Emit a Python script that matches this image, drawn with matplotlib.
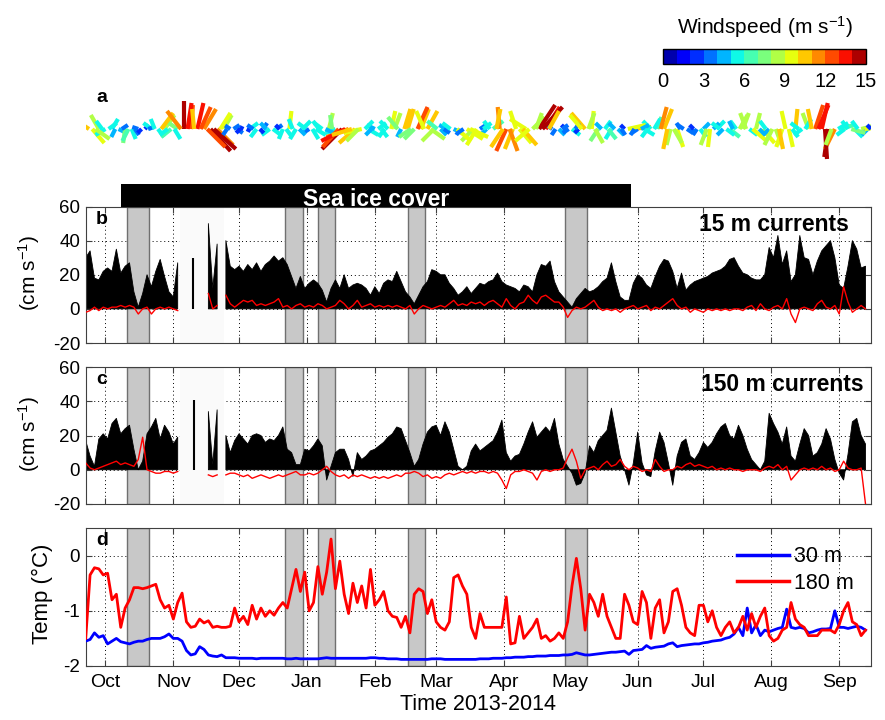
import numpy as np
import matplotlib
matplotlib.use('Agg')
import matplotlib.pyplot as plt
from matplotlib.collections import LineCollection
from matplotlib.patches import Rectangle
from matplotlib.colors import Normalize, ListedColormap
from matplotlib.cm import ScalarMappable
from matplotlib.lines import Line2D

plt.rcParams['font.family'] = ['Liberation Sans', 'DejaVu Sans']
plt.rcParams['mathtext.fontset'] = 'custom'
plt.rcParams['mathtext.rm'] = 'Liberation Sans'
plt.rcParams['mathtext.it'] = 'Liberation Sans:italic'
plt.rcParams['mathtext.bf'] = 'Liberation Sans:bold'
plt.rcParams['axes.unicode_minus'] = False

nan = np.nan
start = np.datetime64('2013-09-22')

# --- data, one value every 2 days from 22 Sep 2013 ---
# 15 m currents (cm/s): black = along-channel speed, red = second component
cur15_black = [30, 34, 18, 17, 22, 24, 22, 35, 21, 25,
               27, 10, 1, 9, 20, 13, 22, 29, 19, 10,
               7, 27, nan, nan, nan, nan, nan, nan, 50, 12,
               38, nan, 40, 25, 23, 25, 22, 26, 23, 27,
               22, 26, 28, 31, 28, 30, 26, 19, 12, 19,
               12, 15, 17, 15, 11, 4, 12, 17, 12, 20,
               12, 14, 15, 14, 12, 8, 13, 9, 15, 17,
               16, 22, 16, 10, 7, 3, 8, 13, 16, 23,
               22, 20, 20, 15, 12, 8, 10, 13, 9, 12,
               15, 14, 16, 17, 21, 16, 14, 13, 12, 10,
               14, 13, 10, 20, 26, 25, 28, 16, 10, 7,
               4, 1, 6, 9, 12, 10, 11, 13, 16, 18,
               27, 16, 7, 5, 5, 15, 20, 18, 14, 12,
               19, 25, 29, 28, 22, 12, 21, 11, 14, 16,
               17, 18, 19, 21, 22, 23, 25, 29, 30, 25,
               21, 20, 18, 17, 17, 20, 36, 30, 43, 26,
               34, 16, 20, 43, 30, 29, 20, 28, 34, 37,
               40, 30, 14, 12, 25, 40, 35, 24, 25]
cur15_red = [-2, -1, 1, -1, 1, 0, 1, 1, 2, 1,
             2, 1, -3, 0, 1, -3, 0, 1, 0, 1,
             0, -1, nan, nan, nan, nan, nan, nan, 9, 0,
             2, nan, 8, 3, 1, 3, 5, 4, 5, 2,
             3, 2, 3, 4, 6, 1, 2, 0, 2, 3,
             1, 2, 1, 3, 2, 0, 1, 2, 5, 3,
             0, 2, 5, 1, 2, 3, 1, 2, 1, 2,
             1, 2, 1, 0, 2, -3, 0, 2, 1, 0,
             1, 2, 1, 3, 5, 2, 3, 2, 4, 3,
             4, 2, 4, 5, 3, 1, 6, 2, 0, 3,
             4, 8, 5, 3, 7, 8, 6, 4, 4, 1,
             -5, -1, 1, 0, 1, 3, 5, 1, -1, 0,
             -1, 0, -2, 0, 1, 2, 0, 1, 2, -1,
             1, 0, 2, 4, 6, 2, 0, 1, -2, 0,
             -1, -2, 0, -1, 0, -1, 0, -1, 0, 0,
             -1, 1, 2, -1, 3, 0, -1, 1, 2, 0,
             6, -3, -8, 0, 1, 0, -1, 3, 5, 1,
             0, 2, -3, 13, 4, -2, 0, 2, 0]
# 150 m currents (cm/s)
cur150_black = [17, 8, 2, 18, 21, 18, 27, 30, 21, 24,
                26, 12, 0, 5, 21, 25, 30, 18, 26, 22,
                15, 19, nan, nan, nan, nan, nan, nan, 34, 3,
                35, nan, 20, 10, 17, 21, 18, 15, 20, 21,
                20, 16, 18, 17, 20, 25, 12, 10, 3, 3,
                12, 11, 14, 18, 14, -6, 2, 10, 12, 12,
                6, -4, 10, 6, 8, 11, 12, 14, 16, 19,
                21, 25, 24, 17, 10, 2, 6, 15, 22, 25,
                26, 20, 28, 22, 12, 2, 0, 2, 11, 15,
                11, 13, 15, 17, 22, 29, 10, 5, 8, 9,
                15, 22, 28, 19, 22, 25, 22, 30, 15, 6,
                2, -2, -9, -8, -2, 14, 10, 17, 20, 23,
                36, 22, 8, 0, -9, 4, 22, 4, -3, -4,
                11, 22, 16, 4, -9, 8, 16, 18, 8, 6,
                10, 16, 13, 16, 21, 25, 27, 20, 18, 26,
                20, 12, 6, 3, 0, 5, 33, 27, 22, 15,
                25, 8, 5, 15, 24, 20, 8, 10, 15, 24,
                18, 6, -2, -6, 9, 28, 30, 20, 15]
cur150_red = [4, 1, 0, 1, 2, 3, 4, 5, 3, 4,
              3, 2, 6, 19, 0, -1, -2, -2, -1, -1,
              -2, -1, nan, nan, nan, nan, nan, nan, -3, -4,
              -3, nan, -3, -2, -2, -3, -4, -3, -5, -4,
              -3, -4, -5, -4, -3, -4, -3, -2, -1, -3,
              -3, -2, -3, -2, 0, 2, -1, -3, -4, -3,
              -5, -3, -4, -3, -4, -5, -4, -5, -4, -5,
              -4, -3, -4, -2, -2, -1, -2, -4, -3, -5,
              -4, -5, -3, -2, -3, -2, -1, -2, -1, -2,
              -1, -1, -2, -1, -2, -6, -11, -3, -1, -1,
              0, -1, -2, -6, -1, 0, -1, 0, 0, 1,
              7, 12, 5, -5, 0, 1, 2, 0, 3, 5,
              2, 3, 6, 2, 0, 2, 1, -1, 0, -1,
              6, 2, -1, 0, 0, 2, 1, 3, 4, 2,
              3, 2, 1, 2, 0, 1, 0, 1, 0, 0,
              -1, 0, 0, 0, -1, 1, 2, 1, 3, 0,
              2, -6, -3, 0, 1, 0, 1, 0, 2, 0,
              1, -1, 0, 5, 1, 0, 0, 1, -20]
# isolated short records inside the data gap (day, cm/s)
bar15 = (49, 30)
bar150 = (49.5, 41)

# temperature (deg C)
temp180 = [-1.5, -0.35, -0.22, -0.24, -0.35, -0.32, -0.8, -0.7, -1.3, -0.95,
           -0.8, -0.58, -0.58, -0.6, -0.58, -0.55, -0.52, -0.8, -0.95, -0.9,
           -1.15, -0.85, -0.68, -1.2, -1.3, -1.28, -1.15, -1.22, -1.18, -1.3,
           -1.28, -1.3, -1.3, -1.28, -0.95, -1.2, -1.1, -1.25, -0.9, -1.15,
           -0.95, -1.1, -1.0, -1.08, -0.95, -0.85, -0.95, -0.6, -0.25, -0.65,
           -0.3, -1.0, -0.85, -0.2, -0.7, -0.3, 0.3, -0.6, -0.1, -0.7,
           -1.05, -0.5, -0.85, -0.55, -0.95, -0.25, -0.9, -0.8, -0.65, -1.0,
           -1.1, -1.12, -1.3, -1.1, -1.4, -0.7, -0.6, -0.65, -1.05, -0.8,
           -1.2, -1.3, -1.35, -1.2, -0.4, -0.35, -0.55, -0.7, -1.3, -1.5,
           -1.05, -1.3, -1.3, -1.3, -1.3, -1.3, -0.75, -1.6, -1.58, -1.1,
           -1.5, -1.4, -1.3, -1.15, -1.5, -1.45, -1.55, -1.5, -1.4, -1.5,
           -1.2, -0.55, -0.05, -0.6, -1.35, -0.7, -0.85, -1.1, -0.7, -1.1,
           -1.3, -1.5, -1.5, -0.7, -0.9, -1.2, -1.25, -0.65, -0.85, -1.5,
           -0.95, -0.8, -1.4, -1.2, -0.65, -0.6, -0.9, -1.3, -1.4, -1.45,
           -0.9, -0.9, -1.2, -1.0, -1.3, -1.45, -1.3, -1.2, -1.4, -1.3,
           -1.1, -1.35, -1.05, -1.3, -1.1, -0.95, -1.45, -1.55, -1.5, -1.35,
           -1.3, -0.85, -1.15, -1.25, -1.3, -1.45, -1.45, -1.45, -1.35, -1.35,
           -1.35, -1.4, -1.25, -1.0, -0.85, -1.2, -1.25, -1.45, -1.35]
temp30 = [-1.55, -1.52, -1.4, -1.48, -1.45, -1.6, -1.55, -1.5, -1.56, -1.58,
          -1.6, -1.57, -1.55, -1.55, -1.52, -1.5, -1.5, -1.5, -1.47, -1.42,
          -1.5, -1.5, -1.55, -1.72, -1.8, -1.78, -1.65, -1.7, -1.8, -1.82,
          -1.83, -1.8, -1.85, -1.85, -1.85, -1.86, -1.86, -1.86, -1.86, -1.87,
          -1.86, -1.86, -1.86, -1.86, -1.86, -1.86, -1.87, -1.87, -1.86, -1.87,
          -1.87, -1.87, -1.87, -1.87, -1.86, -1.85, -1.86, -1.86, -1.86, -1.86,
          -1.86, -1.86, -1.86, -1.86, -1.86, -1.85, -1.85, -1.86, -1.86, -1.87,
          -1.87, -1.87, -1.88, -1.88, -1.88, -1.88, -1.88, -1.88, -1.88, -1.87,
          -1.87, -1.87, -1.88, -1.88, -1.88, -1.88, -1.88, -1.88, -1.88, -1.88,
          -1.87, -1.87, -1.87, -1.86, -1.86, -1.86, -1.85, -1.85, -1.84, -1.84,
          -1.84, -1.83, -1.83, -1.82, -1.82, -1.82, -1.81, -1.81, -1.81, -1.8,
          -1.8, -1.79, -1.76, -1.78, -1.8, -1.8, -1.79, -1.78, -1.77, -1.76,
          -1.75, -1.75, -1.74, -1.73, -1.79, -1.72, -1.71, -1.7, -1.63, -1.68,
          -1.66, -1.65, -1.64, -1.6, -1.58, -1.65, -1.63, -1.62, -1.61, -1.6,
          -1.6, -1.58, -1.57, -1.55, -1.54, -1.53, -1.5, -1.48, -1.42, -1.3,
          -1.45, -0.95, -1.4, -1.25, -1.45, -1.35, -1.38, -1.35, -1.32, -1.3,
          -0.97, -1.3, -1.32, -1.3, -1.32, -1.4, -1.38, -1.35, -1.33, -1.33,
          -1.32, -1.0, -1.3, -1.3, -1.32, -1.3, -1.28, -1.3, -1.35]

# wind sticks (m/s): one set on days 0, 3, 6, ... and one on days 1.5, 4.5, ...
wind_u = [-8, 6, -4, -5, 3, 4, -1, 2, -3, 2, -4, 3, 5, -5, -6, 0, 1, 3, 6, 10,
          8, 4, -3, 3, -2, 4, -3, 2, -4, 3, -2, 1, -3, 4, -3, 5, -4, 2, -5, -10,
          -11, -8, -9, 5, -4, 3, -4, 3, -2, 3, -5, 4, 5, -6, 3, -4, 4, -2, 8, -6,
          3, -3, 5, -1, -5, -4, 6, -8, 6, 8, 7, -3, 3, -2, 4, -2, -7, 1, -4, 3,
          -3, 3, -2, 10, -3, 5, -4, 2, 4, -2, 3, -3, 3, -2, 3, -1, 4, -3, 5, -3,
          3, 4, 2, 6, -3, 3, -3, 2, 1, -4, -3, 4, 3, -2, -5, 6, -3, 4, 8, -3]
wind_v = [7, -7, 7, -3, 5, -2, -7, -5, 1, 2, 3, -4, 7, -4, 4, 14, 12, 13, 10, -11,
          -8, 7, 2, -2, 1, 3, -4, 3, -3, 2, -5, 9, -5, 4, -2, -3, 3, 8, -2, -10,
          -4, -7, -2, -3, 2, -4, 4, 8, -4, 10, -5, 10, 9, -6, -3, 2, -2, -3, -5, -6,
          2, -3, 4, 11, -11, -10, -7, 5, 6, 12, 11, 2, -3, 2, -3, -2, 8, 9, -6, 4,
          -5, -3, 2, 1, -2, -3, 4, 6, 10, -8, -9, 2, -2, -3, 3, -9, 4, -3, -4, 4,
          8, -3, 8, -7, -3, -8, -9, -9, 10, -3, 8, 12, 13, -14, -10, 2, 4, -4, 2, -3]
wind_u2 = [-9, 7, -3, 4, -2, 3, -3, 2, -2, 3, -2, 6, -4, 3, -7, 2, -1, 5, 9, 11,
           5, -2, 3, -2, 2, -3, 2, -3, 4, -2, 3, -2, 3, -4, 3, -3, 4, -1, -8, -12,
           -10, -6, 4, -3, 4, -3, 2, -5, 3, -6, 5, -4, 7, -5, 3, -4, 7, -3, 9, -5,
           4, -3, 2, -6, 4, -3, 7, -7, 3, 10, 5, -2, 3, -3, 2, -6, 3, 4, -3, 4,
           -3, 2, 9, -2, 4, -3, 3, 3, -2, 4, -2, 3, -2, 3, -3, 3, -4, 4, -2, 4,
           -3, 7, 3, -3, -4, 2, -2, 3, -4, 3, -2, 5, 1, -3, 5, -4, 7, -3, 9, -2]
wind_v2 = [6, -5, 4, 3, -4, 2, -6, -3, -2, 1, 5, 8, -3, -5, 9, 13, 10, 11, -9, -10,
           8, -3, 2, -2, -1, 2, -2, 3, -3, 2, -4, 5, -3, 3, -5, 4, -2, 7, -9, -6,
           -3, -6, 4, -3, 3, -4, 9, 6, 10, -4, 11, 9, -5, 4, -2, 3, -6, -2, -4, -8,
           3, 4, 10, -9, -11, 9, -8, -6, 8, 11, 9, -3, 2, -2, 3, 7, 8, -7, 3, -5,
           3, -3, 2, -3, 2, -4, 5, 11, -10, -7, 3, -2, 2, -4, -8, 3, 3, -3, 4, 7,
           8, -6, -3, 4, -8, -10, 9, -4, 3, 5, 10, 12, -15, -8, 3, -3, -2, 4, 1, 2]

# shaded event periods and sea-ice period
event_start = np.array(['2013-10-11', '2013-12-22', '2014-01-06', '2014-02-16', '2014-04-29'], dtype='datetime64[D]')
event_end = np.array(['2013-10-21', '2013-12-30', '2014-01-14', '2014-02-24', '2014-05-09'], dtype='datetime64[D]')
ice_period = np.array(['2013-10-08', '2014-05-29'], dtype='datetime64[D]')
gap_period = np.array(['2013-11-04', '2013-11-24'], dtype='datetime64[D]')

month_labels = ['Oct', 'Nov', 'Dec', 'Jan', 'Feb', 'Mar', 'Apr', 'May', 'Jun', 'Jul', 'Aug', 'Sep']
months = np.arange('2013-10', '2014-10', dtype='datetime64[M]')
month_days = (months.astype('datetime64[D]') - start).astype(int)

days = np.arange(len(cur15_black)) * 2
wind_day = np.arange(len(wind_u)) * 3
wind_day2 = np.arange(len(wind_u2)) * 3 + 1.5
ev0 = (event_start - start).astype(int)
ev1 = (event_end - start).astype(int)
ice0, ice1 = (ice_period - start).astype(int)
gap0, gap1 = (gap_period - start).astype(int)
xmax = 358.5

W, H = 885, 720
fig = plt.figure(figsize=(W / 100, H / 100), dpi=100)


def px_axes(x0, y0, x1, y1):
    return fig.add_axes([x0 / W, 1 - y1 / H, (x1 - x0) / W, (y1 - y0) / H])


def style(ax):
    ax.set_xlim(0, xmax)
    ax.set_xticks(month_days)
    ax.grid(True, color='k', linestyle=(0, (1, 3)), lw=0.7)
    ax.set_axisbelow(True)
    ax.tick_params(direction='in', top=True, right=True, length=4,
                   labelsize=13.5, pad=4, color='#404040')
    ax.tick_params(axis='x', labelsize=14, pad=6)
    for s in ax.spines.values():
        s.set_color('#404040')
    for a, b in zip(ev0, ev1):
        ax.axvspan(a, b, facecolor='#c8c8c8', edgecolor='#707070', lw=1, zorder=1)


# ---- panel a: wind sticks ----
axa = px_axes(85.7, 90, 871, 168)
axa.set_xlim(0, xmax)
axa.set_ylim(-19.5, 19.5)
axa.axis('off')
k = (78 / 39.0) / (785.3 / xmax)   # days per m/s so sticks keep true direction
cmap = ListedColormap(plt.cm.jet(np.linspace(0.04, 0.96, 15)))
norm = Normalize(0, 15)
for dd, uu, vv in [(wind_day, wind_u, wind_v), (wind_day2, wind_u2, wind_v2)]:
    wu = np.array(uu, float)
    wv = np.array(vv, float)
    segs = [[(d, 0), (d + u * k, v)] for d, u, v in zip(dd, wu, wv)]
    lc = LineCollection(segs, colors=cmap(norm(np.hypot(wu, wv))),
                        linewidths=3, capstyle='butt')
    axa.add_collection(lc)
fig.text(96 / W, 1 - 89 / H, 'a', fontsize=14, weight='bold', va='top', ha='left')

# colorbar
cax = px_axes(663, 49, 866, 64)
cb = fig.colorbar(ScalarMappable(norm=norm, cmap=cmap), cax=cax,
                  orientation='horizontal', ticks=range(0, 16, 3))
cb.ax.tick_params(length=0, labelsize=14.5, pad=6)
cb.outline.set_linewidth(1)
cax.set_title('Windspeed (m s$^{-1}$)', fontsize=15, pad=11)


# ---- panels b, c: currents ----
def current_panel(ax, black, red, bar, letter, label, lab_x):
    style(ax)
    ax.axvspan(gap0, gap1, facecolor='#fafafa', lw=0, zorder=1)
    ax.fill_between(days, 0, np.array(black, float), color='k', lw=0.6, zorder=2)
    ax.vlines(bar[0], 0, bar[1], color='k', lw=1.5, zorder=2)
    ax.plot(days, red, color='r', lw=1, zorder=3)
    ax.set_ylim(-20, 60)
    ax.set_yticks([-20, 0, 20, 40, 60])
    ax.set_xticklabels([])
    ax.set_ylabel('(cm s$^{-1}$)', fontsize=15)
    ax.yaxis.set_label_coords(-0.056, 0.51)
    ax.text(0.013, 0.97, letter, transform=ax.transAxes, fontsize=14,
            weight='bold', va='top', ha='left')
    ax.text(lab_x, 0.955, label, transform=ax.transAxes, fontsize=16.5,
            weight='bold', va='top', ha='right', zorder=5)


axb = px_axes(85.7, 206.5, 871, 343)
current_panel(axb, cur15_black, cur15_red, bar15, 'b', '15 m currents', 0.972)
axb.add_patch(Rectangle((ice0, 60), ice1 - ice0, 13.2, facecolor='k',
                        edgecolor='none', clip_on=False, zorder=4))
axb.text((ice0 + ice1) / 2, 60.4, 'Sea ice cover', color='w', fontsize=16.5,
         weight='bold', ha='center', va='baseline', zorder=5)

axc = px_axes(85.7, 367, 871, 504)
current_panel(axc, cur150_black, cur150_red, bar150, 'c', '150 m currents', 0.99)

# ---- panel d: temperature ----
axd = px_axes(85.7, 528, 871, 666)
style(axd)
axd.plot(days, temp30, color='b', lw=2, zorder=3)
axd.plot(days, temp180, color='r', lw=2, zorder=3)
axd.set_ylim(-2, 0.5)
axd.set_yticks([-2, -1, 0])
axd.set_xticklabels(month_labels)
axd.set_ylabel('Temp (\u00b0C)', fontsize=16)
axd.yaxis.set_label_coords(-0.042, 0.52)
axd.set_xlabel('Time 2013-2014', fontsize=15.5)
axd.xaxis.set_label_coords(0.5, -0.2)
axd.text(0.013, 0.97, 'd', transform=axd.transAxes, fontsize=14,
         weight='bold', va='top', ha='left')
handles = [Line2D([], [], color='b', lw=2.5), Line2D([], [], color='r', lw=2.5)]
axd.legend(handles, ['30 m', '180 m'], loc='upper right', frameon=False,
           fontsize=15.5, handlelength=2.4, handletextpad=0.25, labelspacing=0.25,
           borderaxespad=0.2, bbox_to_anchor=(0.995, 0.96))

fig.savefig('out.png', dpi=100)
